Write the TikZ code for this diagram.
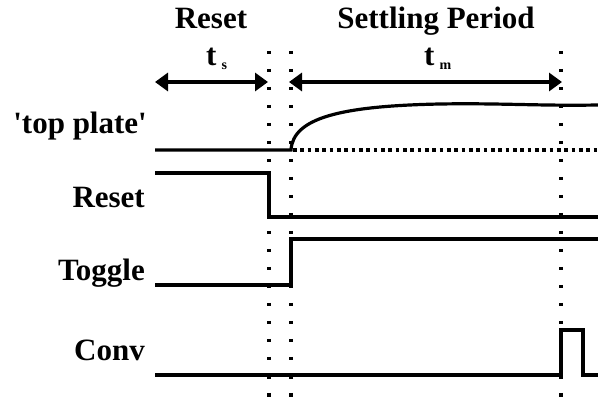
\documentclass[tikz,border=0pt]{standalone}
\usepackage{fontspec}
\setmainfont{Liberation Serif}
\usetikzlibrary{arrows.meta}
\tikzset{
  lbl/.style={font=\fontsize{31}{31}\selectfont\bfseries, inner sep=0pt},
  sig/.style={line width=3.2pt, line join=miter},
  vdots/.style={line width=3.6pt, dash pattern=on 3.6pt off 14.4pt},
  hdots/.style={line width=3.4pt, dash pattern=on 3.8pt off 3.53pt},
  span/.style={line width=4pt, {Triangle[length=13pt,width=18pt]}-{Triangle[length=13pt,width=18pt]}},
}
\newcommand{\tsub}[1]{t\,\raisebox{-4pt}{\fontsize{14}{14}\selectfont #1}}
\begin{document}
\begin{tikzpicture}[x=1pt,y=-1pt]
\useasboundingbox (0,0) rectangle (598,401);
% headings
\node[lbl, anchor=base] (hreset) at (211,29) {Reset};
\node[lbl, anchor=base] (hsettle) at (436,29) {Settling Period};
\node[lbl, anchor=base west] (ts) at (206,66) {\tsub{s}};
\node[lbl, anchor=base west] (tm) at (424,66) {\tsub{m}};
% signal labels
\node[lbl, anchor=base east] (ltop) at (147,134) {\textquotesingle top plate\textquotesingle};
\node[lbl, anchor=base east] (lreset) at (145,208) {Reset};
\node[lbl, anchor=base east] (ltoggle) at (145,281) {Toggle};
\node[lbl, anchor=base east] (lconv) at (145,360) {Conv};
% coordinates
\coordinate (d1t) at (269,50.9); \coordinate (d1b) at (269,398);
\coordinate (d2t) at (291,50.9); \coordinate (d2b) at (291,398);
\coordinate (d3t) at (561,50.9); \coordinate (d3b) at (561,398);
\coordinate (a1) at (155,82); \coordinate (a2) at (268,82);
\coordinate (a3) at (289,82); \coordinate (a4) at (562,82);
% dotted verticals
\draw[vdots] (d1t) -- (d1b);
\draw[vdots] (d2t) -- (d2b);
\draw[vdots] (d3t) -- (d3b);
% span arrows
\draw[span] (a1) -- (a2);
\draw[span] (a3) -- (a4);
% top plate
\draw[hdots] (293,150) -- (598,150);
\draw[sig] (155,150) -- (291,150) .. controls (293,118) and (340,106) .. (440,104)
  .. controls (500,103) and (540,106) .. (598,105);
% Reset
\draw[sig] (155,173) -- (269,173) -- (269,217) -- (598,217);
% Toggle
\draw[sig] (155,285) -- (291,285) -- (291,239) -- (598,239);
% Conv
\draw[sig] (155,375) -- (561,375) -- (561,330) -- (583,330) -- (583,375) -- (598,375);
\end{tikzpicture}
\end{document}
